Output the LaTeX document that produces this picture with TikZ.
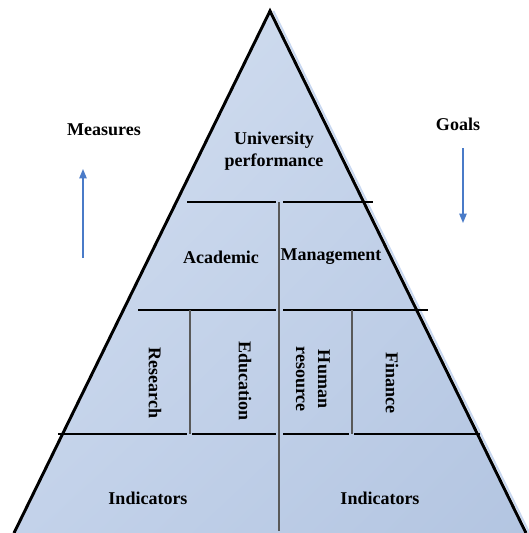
\documentclass[tikz,border=0pt]{standalone}
\usepackage{fontspec}
\setmainfont{Liberation Serif}
\usetikzlibrary{arrows.meta,shadings}

\definecolor{pyrlight}{HTML}{D6E1F1}
\definecolor{pyrmid}{HTML}{C3D2EA}
\definecolor{pyrdark}{HTML}{B3C5E1}
\definecolor{pyrshadow}{HTML}{C9D8F0}
\definecolor{flowblue}{HTML}{4A7BC8}

\begin{document}
\begin{tikzpicture}[x=0.75pt, y=-0.75pt,
    lbl/.style={font=\fontsize{13.5}{16.5}\selectfont\bfseries, align=center, inner sep=0pt},
    vlbl/.style={lbl, rotate=-90},
    edge/.style={draw=black, line width=2.2pt},
    rule/.style={draw=black, line width=1pt},
    divider/.style={draw=black!65, line width=1.5pt},
    flow/.style={draw=flowblue, line width=1pt, -{Triangle[length=7pt,width=5.5pt]}}
  ]
  \useasboundingbox (0,0) rectangle (529,533);

  % pyramid body
  \coordinate (apex) at (270,11);
  \coordinate (baseL) at (14,533);
  \coordinate (baseR) at (526,533);
  \shade[upper left=pyrlight, upper right=pyrmid, lower left=pyrmid, lower right=pyrdark]
    (apex) -- (baseR) -- (baseL) -- cycle;
  \draw[pyrshadow, line width=1.5pt] ([xshift=2.5]apex) -- ([xshift=2.5]baseR);
  \draw[edge] (baseL) -- (apex) -- (baseR);

  % level rules
  \draw[rule] (187,202) -- (276,202);
  \draw[rule] (283,202) -- (373,202);
  \draw[rule] (138,310) -- (276,310);
  \draw[rule] (283,310) -- (428,310);
  \draw[rule] (58,434) -- (187,434);
  \draw[rule] (192,434) -- (276,434);
  \draw[rule] (283,434) -- (349,434);
  \draw[rule] (354,434) -- (480,434);

  % column dividers
  \draw[divider] (279,202) -- (279,531);
  \draw[divider] (190,310) -- (190,434);
  \draw[divider] (352,310) -- (352,434);

  % labels
  \node[lbl] (top) at (274,151) {University\\performance};
  \node[lbl] (academic) at (221,257) {Academic};
  \node[lbl] (management) at (331,257) {Management};
  \node[vlbl] (research) at (155,383) {Research};
  \node[vlbl] (education) at (245,381) {Education};
  \node[vlbl] (humanres) at (313,379) {Human\\resource};
  \node[vlbl] (finance) at (392,383) {Finance};
  \node[lbl] (indleft) at (148,498) {Indicators};
  \node[lbl] (indright) at (380,498) {Indicators};

  \node[lbl] (measures) at (104,130) {Measures};
  \node[lbl] (goals) at (458,124) {Goals};

  % direction arrows
  \coordinate (mfoot) at (83,258);
  \coordinate (mhead) at (83,169);
  \coordinate (gfoot) at (463,148);
  \coordinate (ghead) at (463,223);
  \draw[flow] (mfoot) -- (mhead);
  \draw[flow] (gfoot) -- (ghead);
\end{tikzpicture}
\end{document}
